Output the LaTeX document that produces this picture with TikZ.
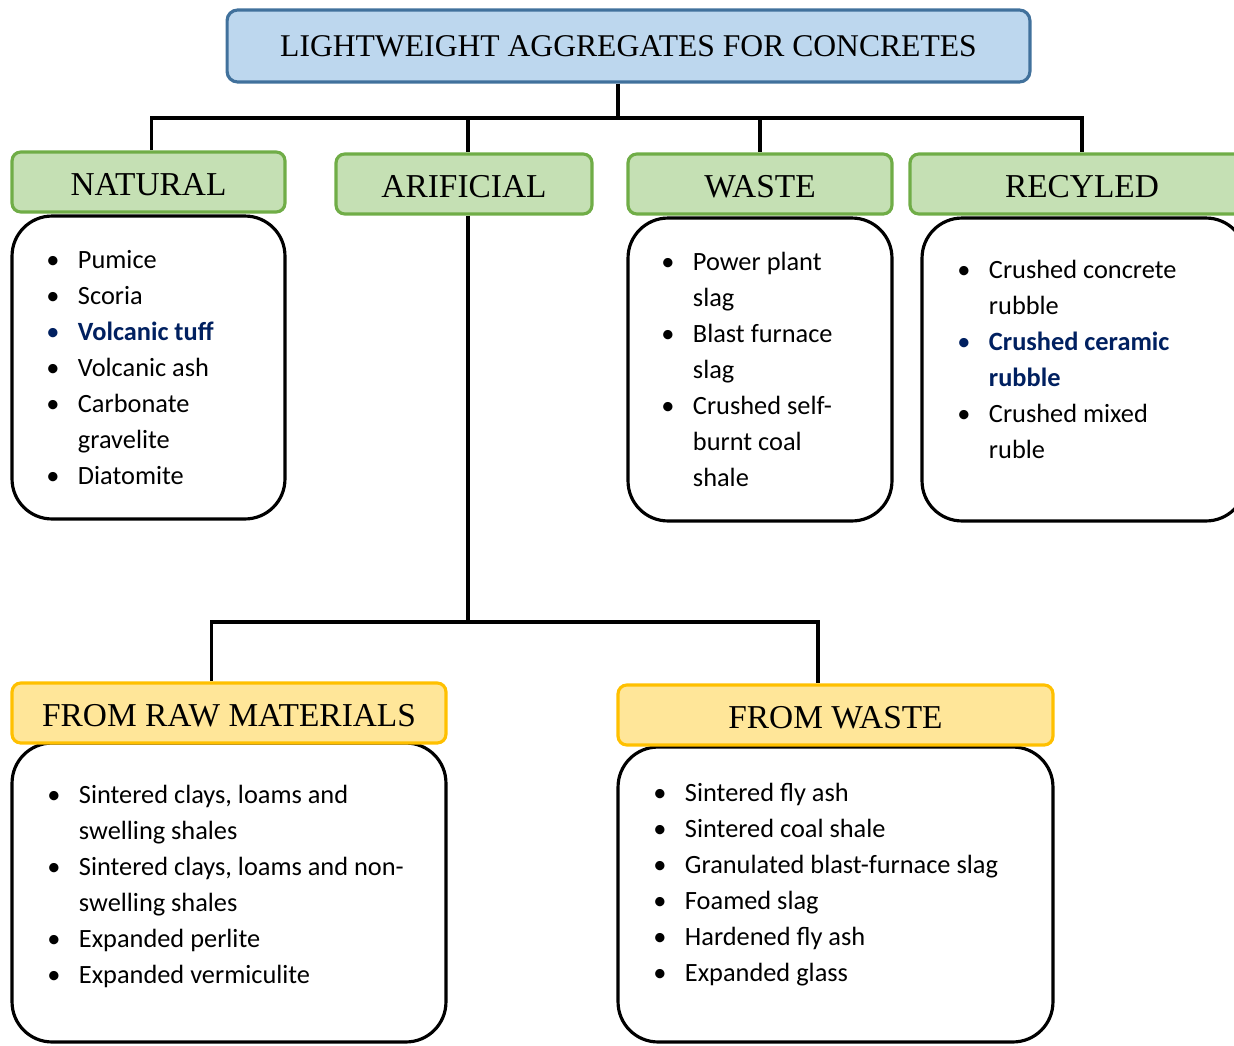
\documentclass[tikz,border=0pt]{standalone}
\usepackage{fontspec}
\setmainfont{Liberation Serif}
\newfontfamily\listfont{Carlito}
\usetikzlibrary{calc}

\definecolor{topfill}{HTML}{BDD7EE}
\definecolor{topline}{HTML}{41719C}
\definecolor{grnfill}{HTML}{C5E0B4}
\definecolor{grnline}{HTML}{70AD47}
\definecolor{ylwfill}{HTML}{FFE699}
\definecolor{ylwline}{HTML}{FFC000}
\definecolor{navy}{HTML}{002060}

\newcommand{\bul}{\textbullet}
\newcommand{\navyitem}[1]{\textcolor{navy}{\textbf{#1}}}

\begin{document}
\begin{tikzpicture}[
    x=0.02cm, y=-0.02cm,
    conn/.style={line width=2pt},
    topbox/.style={draw=topline, fill=topfill, line width=1.8pt, rounded corners=6pt,
        minimum width=16.06cm, minimum height=1.44cm, inner sep=0pt,
        font=\fontsize{18}{22}\selectfont},
    grnhdr/.style={draw=grnline, fill=grnfill, line width=1.8pt, rounded corners=5pt,
        minimum height=1.2cm, inner sep=0pt, font=\fontsize{19}{22}\selectfont,
        text height=15.5pt, text depth=0pt},
    ylwhdr/.style={draw=ylwline, fill=ylwfill, line width=1.8pt, rounded corners=5pt,
        minimum height=1.2cm, inner sep=0pt, font=\fontsize{19}{22}\selectfont,
        text height=15.5pt, text depth=0pt},
    listbox/.style={draw, line width=1.8pt, rounded corners=0.8cm, fill=white, inner sep=0pt},
    listtext/.style={anchor=base west, inner sep=0pt, align=left,
        font=\listfont\fontsize{15}{20.5}\selectfont},
]
\clip (0,0) rectangle (1234,1045);

% Top box
\node[topbox] (top) at (628.5,46) {LIGHTWEIGHT AGGREGATES FOR CONCRETES};

% List boxes (under the headers)
\node[listbox, minimum width=5.46cm, minimum height=6.06cm] (natl) at (148.5,367.5) {};
\node[listbox, minimum width=5.28cm, minimum height=6.06cm] (wstl) at (760,369.5) {};
\node[listbox, minimum width=6.48cm, minimum height=6.06cm] (recl) at (1084,369.5) {};
\node[listbox, minimum width=8.68cm, minimum height=5.98cm] (rawl) at (229,892.5) {};
\node[listbox, minimum width=8.70cm, minimum height=5.90cm] (fwstl) at (835.5,894.5) {};

% Main groups
\node[grnhdr, minimum width=5.46cm] (nat) at (148.5,182) {NATURAL};
\node[grnhdr, minimum width=5.12cm] (art) at (464,184) {ARIFICIAL};
\node[grnhdr, minimum width=5.28cm] (wst) at (760,184) {WASTE};
\node[grnhdr, minimum width=6.88cm] (rec) at (1082,184) {RECYLED};

% Artificial subgroups
\node[ylwhdr, minimum width=8.68cm] (raw) at (229,713) {FROM RAW MATERIALS};
\node[ylwhdr, minimum width=8.70cm] (fwst) at (835.5,715) {FROM WASTE};

% Connectors
\coordinate (bus) at (618,118);
\coordinate (bus2) at (468,622);
\draw[conn] (top.south -| bus) -- (bus);
\foreach \n/\f in {nat/0.51,art/0.515,wst/0.5,rec/0.5}
    \draw[conn] (bus) -| ($(\n.north west)!\f!(\n.north east)$);
\draw[conn] (art.south -| bus2) -- (bus2);
\foreach \n in {raw,fwst} \draw[conn] (bus2) -| ($(\n.north west)!0.46!(\n.north east)$);

% Lists
\node[listtext] (natt) at (46,268) {\begin{tabular}[t]{@{}p{18pt}@{}l@{}}
    \bul & Pumice\\
    \bul & Scoria\\
    \textcolor{navy}{\bul} & \navyitem{Volcanic tuff}\\
    \bul & Volcanic ash\\
    \bul & Carbonate\\
         & gravelite\\
    \bul & Diatomite
\end{tabular}};
\node[listtext] (wstt) at (661,270) {\begin{tabular}[t]{@{}p{18pt}@{}l@{}}
    \bul & Power plant\\
         & slag\\
    \bul & Blast furnace\\
         & slag\\
    \bul & Crushed self-\\
         & burnt coal\\
         & shale
\end{tabular}};
\node[listtext] (rect) at (957,278) {\begin{tabular}[t]{@{}p{18pt}@{}l@{}}
    \bul & Crushed concrete\\
         & rubble\\
    \textcolor{navy}{\bul} & \navyitem{Crushed ceramic}\\
         & \navyitem{rubble}\\
    \bul & Crushed mixed\\
         & ruble
\end{tabular}};
\node[listtext] (rawt) at (47,803) {\begin{tabular}[t]{@{}p{18pt}@{}l@{}}
    \bul & Sintered clays, loams and\\
         & swelling shales\\
    \bul & Sintered clays, loams and non-\\
         & swelling shales\\
    \bul & Expanded perlite\\
    \bul & Expanded vermiculite
\end{tabular}};
\node[listtext] (fwstt) at (653,801) {\begin{tabular}[t]{@{}p{18pt}@{}l@{}}
    \bul & Sintered fly ash\\
    \bul & Sintered coal shale\\
    \bul & Granulated blast-furnace slag\\
    \bul & Foamed slag\\
    \bul & Hardened fly ash\\
    \bul & Expanded glass
\end{tabular}};
\end{tikzpicture}
\end{document}
